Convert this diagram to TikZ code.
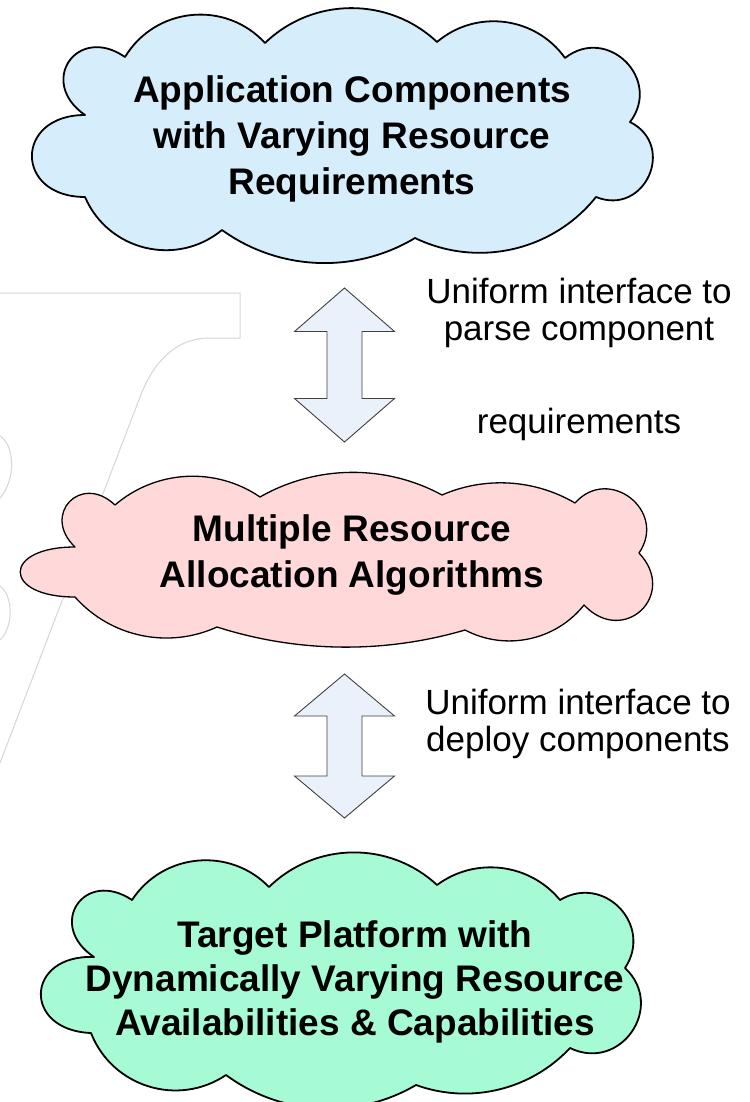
\documentclass[tikz,border=0pt]{standalone}
\usepackage{fontspec}
\setmainfont{Liberation Sans}

\definecolor{cloudblue}{RGB}{214,238,251}
\definecolor{cloudpink}{RGB}{255,217,217}
\definecolor{cloudmint}{RGB}{166,250,212}
\definecolor{arrowfill}{RGB}{234,241,250}
\definecolor{arrowline}{RGB}{64,64,64}
\definecolor{faint}{RGB}{214,214,214}

\tikzset{
  % one cloud lobe between two notches; #1 = bulge height / chord length
  puff/.code={%
    \pgfmathsetmacro\puffs{#1}%
    \ifdim\puffs pt>0.5pt
      \pgfmathsetmacro\puffa{90}%
      \pgfmathsetmacro\puffl{\puffs/0.2936}%
    \else
      \pgfmathsetmacro\puffr{(0.25+\puffs*\puffs)/(2*\puffs)}%
      \pgfmathsetmacro\puffa{acos(1-\puffs/\puffr)}%
      \pgfmathsetmacro\puffl{4/3*\puffr*tan(\puffa/2)/0.3915}%
    \fi
    \pgfkeysalso{/tikz/bend left=\puffa,/tikz/looseness=\puffl}},
  cloudline/.style={draw=black, line width=#1, line join=round},
  cloudtext/.style={font=\fontsize{37}{46}\selectfont\bfseries, align=center, inner sep=0pt},
  labeltext/.style={font=\fontsize{35}{37}\selectfont, align=center, inner sep=0pt},
  updown/.style={draw=arrowline, fill=arrowfill, line width=0.9pt, line join=miter},
  watermark/.style={draw=faint, line width=1pt},
}

% vertical double block arrow centred on the origin: half length, head length
\newcommand\doublearrowpath[2]{(0,#1) -- (50,#1-#2) -- (17.5,#1-#2) -- (17.5,-#1+#2)
  -- (50,-#1+#2) -- (0,-#1) -- (-50,-#1+#2) -- (-17.5,-#1+#2) -- (-17.5,#1-#2)
  -- (-50,#1-#2) -- cycle}

\begin{document}
\begin{tikzpicture}[x=1pt, y=1pt]
  \fill[white] (0,0) rectangle (749,-1102);
  \useasboundingbox (0,0) rectangle (749,-1102);

  % faded outline in the background
  \draw[watermark] (0,-293) -- (240,-293) -- (240,-338) -- (210,-338)
    to[out=180, in=69] (140,-397) -- (0,-763);
  \draw[watermark] (0,-436) .. controls (15,-445) and (16,-480) .. (0,-498);
  \draw[watermark] (0,-586) .. controls (13,-595) and (14,-627) .. (0,-640);

  % application components
  \path[cloudline=1.8pt, fill=cloudblue]
    (85,-115) to[puff=0.62] (125,-57) to[puff=0.25] (265,-43)
    to[puff=0.2] (437,-42) to[puff=0.22] (565,-58) to[puff=0.44] (630,-122)
    to[puff=0.48] (596,-197) to[puff=0.175] (415,-238) to[puff=0.15] (222,-230)
    to[puff=0.25] (85,-197) to[puff=0.65] (85,-115) -- cycle;
  \node[cloudtext] (apps) at (352,-139)
    {Application Components\\with Varying Resource\\Requirements};

  % allocation algorithms
  \path[cloudline=1.3pt, fill=cloudpink]
    (75,-597) to[puff=1.1] (75,-547) to[puff=0.61] (115,-505)
    to[puff=0.17] (260,-497) to[puff=0.13] (442,-495) to[puff=0.12] (575,-503)
    to[puff=0.47] (639,-553) to[puff=0.57] (584,-605) to[puff=0.18] (465,-630)
    to[puff=0.075] (217,-627) to[puff=0.165] (75,-597) -- cycle;
  \node[cloudtext] (algos) at (352,-555.5)
    {Multiple Resource\\Allocation Algorithms};

  % target platform
  \path[cloudline=1.8pt, fill=cloudmint]
    (94,-957) to[puff=0.63] (132,-900) to[puff=0.24] (269,-887)
    to[puff=0.2] (437,-885) to[puff=0.2] (560,-900) to[puff=0.4] (625,-968)
    to[puff=0.43] (570,-1048) to[puff=0.15] (416,-1085) to[puff=0.15] (226,-1075)
    to[puff=0.24] (91,-1033) to[puff=0.68] (94,-957) -- cycle;
  \node[cloudtext, font=\fontsize{37}{44}\selectfont\bfseries] (platform) at (355,-981.5)
    {Target Platform with\\Dynamically Varying Resource\\Availabilities \& Capabilities};

  % interfaces between the layers
  \coordinate (parsearrow) at (344.5,-365);
  \coordinate (deployarrow) at (344.5,-746);
  \begin{scope}[shift={(parsearrow)}]
    \path[updown] \doublearrowpath{77}{43.5};
  \end{scope}
  \begin{scope}[shift={(deployarrow)}]
    \path[updown] \doublearrowpath{72}{42};
  \end{scope}

  \node[labeltext] (parse) at (579,-359)
    {Uniform interface to\\parse component\\[56pt]requirements};
  \node[labeltext] (deploy) at (578,-723.5)
    {Uniform interface to\\deploy components};
\end{tikzpicture}
\end{document}
